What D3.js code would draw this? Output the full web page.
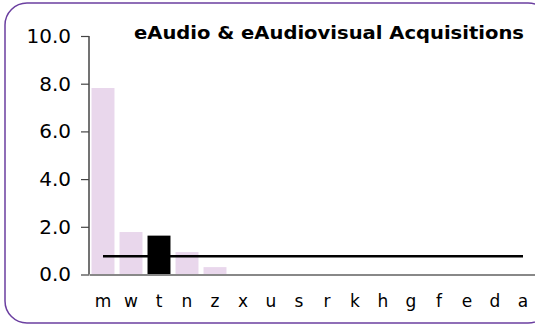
<!DOCTYPE html>
<html><head><meta charset="utf-8">
<script src="https://cdn.jsdelivr.net/npm/d3@7"></script>
<style>body{margin:0;background:#fff;} svg{display:block;}</style>
</head><body>
<script>
const categories = ["m","w","t","n","z","x","u","s","r","k","h","g","f","e","d","a"];
const values = [7.82, 1.78, 1.63, 0.94, 0.31, 0, 0, 0, 0, 0, 0, 0, 0, 0, 0, 0];
const highlight = "t";
const averageValue = 0.76;
const yTicks = [0, 2, 4, 6, 8, 10];
const title = "eAudio & eAudiovisual Acquisitions";

const W = 535, H = 324;
const svg = d3.select("body").append("svg").attr("width", W).attr("height", H);

svg.append("rect").attr("x", 5).attr("y", 3).attr("width", 545).attr("height", 320)
  .attr("rx", 22).attr("ry", 22).attr("fill", "none").attr("stroke", "#6b3fa0").attr("stroke-width", 1.5);

const x = d3.scaleBand().domain(categories).range([89, 537]).paddingInner(0.18).paddingOuter(0.09);
const y = d3.scaleLinear().domain([0, 10]).range([274.5, 36]);

svg.append("g").selectAll("rect").data(categories).join("rect")
  .attr("x", d => x(d)).attr("width", x.bandwidth())
  .attr("y", (d, i) => y(values[i])).attr("height", (d, i) => y(0) - y(values[i]))
  .attr("fill", d => d === highlight ? "#000" : "#e9d7ec");

// average line
const line = d3.line().x(d => x(d) + x.bandwidth() / 2).y(() => y(averageValue));
svg.append("path").datum(categories).attr("d", line)
  .attr("fill", "none").attr("stroke", "#000").attr("stroke-width", 2.5);

// y axis
const yAxis = svg.append("g").attr("transform", "translate(89,0)")
  .call(d3.axisLeft(y).tickValues(yTicks).tickFormat(d3.format(".1f")).tickSize(8).tickPadding(10));
yAxis.select(".domain").attr("stroke", "#444").attr("stroke-width", 1.5).attr("d", "M0,36V274.5");
yAxis.selectAll(".tick line").attr("stroke", "#444").attr("stroke-width", 1.2);
yAxis.selectAll("text").attr("font-family", "DejaVu Sans, Verdana, sans-serif").attr("font-size", 20).attr("fill", "#000");

// x axis
const xAxis = svg.append("g").attr("transform", "translate(0,274.5)")
  .call(d3.axisBottom(x).tickSize(0).tickPadding(20));
xAxis.select(".domain").attr("stroke", "#888").attr("stroke-width", 2);
xAxis.selectAll("text").attr("font-family", "DejaVu Sans, Verdana, sans-serif").attr("font-size", 17).attr("fill", "#000");

svg.append("text").attr("x", 524).attr("y", 39).attr("text-anchor", "end")
  .attr("font-family", "DejaVu Sans, Verdana, sans-serif").attr("font-weight", "bold").attr("font-size", 17)
  .attr("textLength", 390).attr("lengthAdjust", "spacingAndGlyphs")
  .attr("fill", "#000").text(title);
</script>
</body></html>
